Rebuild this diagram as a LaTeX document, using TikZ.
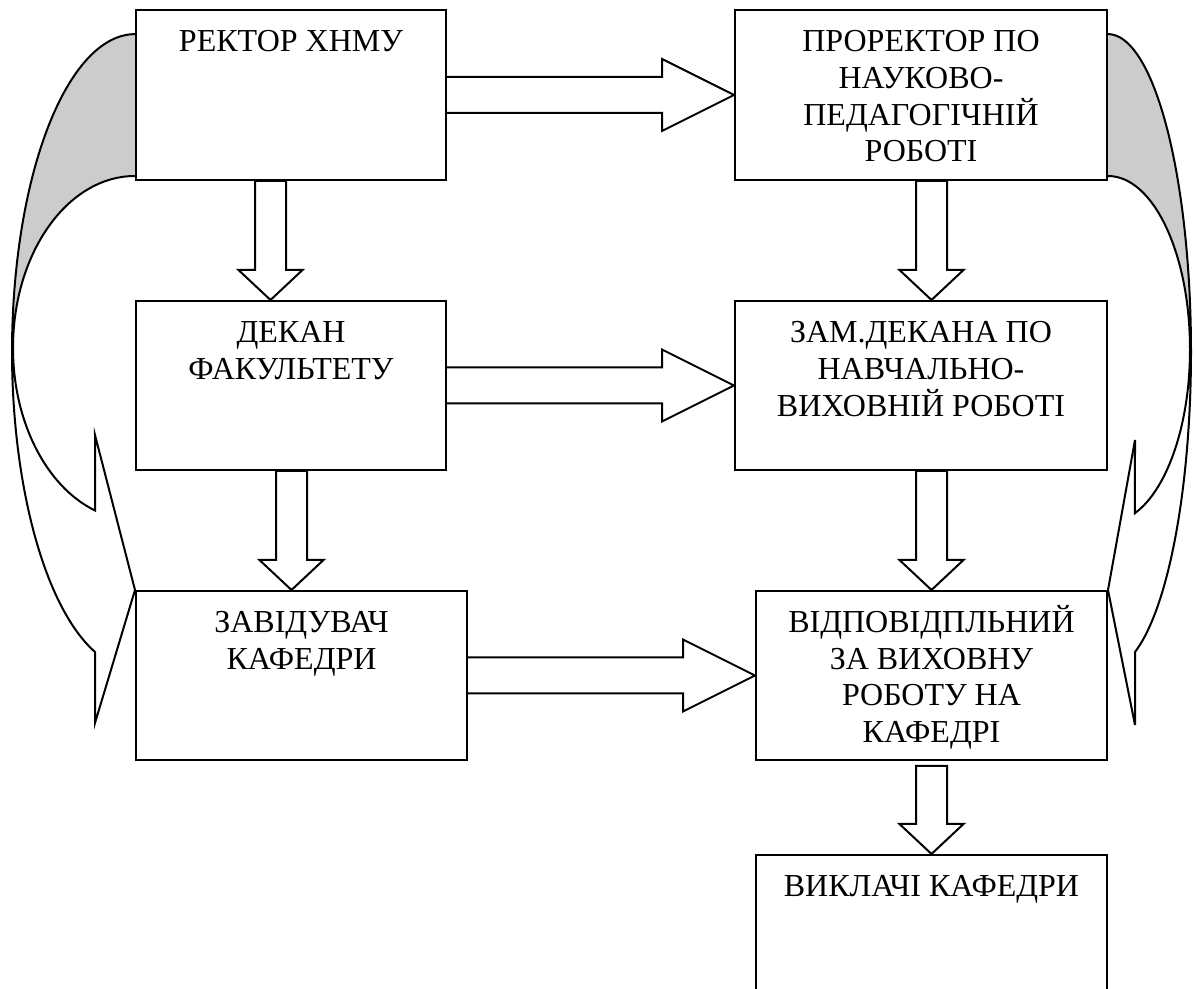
\documentclass[tikz,border=0pt]{standalone}
\usepackage{fontspec}
\setmainfont{Liberation Serif}
\usetikzlibrary{calc,positioning,backgrounds}

% hollow arrow pointing down: from, to, x shift, gap below the from box
\newcommand{\downblock}[4]{%
  \coordinate (db-top) at ($(#1.south)+(#3,#4)$);
  \coordinate (db-tip) at (db-top |- #2.north);
  \draw[blockarrow] ($(db-top)+(-15.5,0)$) -- ($(db-tip)+(-15.5,-30)$) -- ($(db-tip)+(-32,-30)$)
    -- (db-tip) -- ($(db-tip)+(32,-30)$) -- ($(db-tip)+(15.5,-30)$) -- ($(db-top)+(15.5,0)$) -- cycle;}
% hollow arrow pointing right: from, to
\newcommand{\rightblock}[2]{%
  \draw[blockarrow] ($(#1.east)+(0,-18)$) -- ($(#2.west)+(-72,-18)$) -- ($(#2.west)+(-72,-36)$)
    -- (#2.west) -- ($(#2.west)+(-72,36)$) -- ($(#2.west)+(-72,18)$) -- ($(#1.east)+(0,18)$);}

\tikzset{
  box/.style={draw, line width=1pt, fill=white, inner sep=0pt},
  txt/.style={align=center, inner sep=0pt, font=\fontsize{16}{18.35}\selectfont},
  blockarrow/.style={draw, line width=1pt, fill=white, line join=miter},
  loopline/.style={draw, line width=1pt, line join=miter},
  loopshade/.style={fill=black!20}
}

\begin{document}
\begin{tikzpicture}[x=0.5pt, y=-0.5pt]
      \useasboundingbox (0,0) rectangle (1196,989);
      % boxes
      \node[box, minimum width=155pt, minimum height=85pt] (rector) at (291,95) {};
      \node[box, minimum width=186pt, minimum height=85pt] (prorector) at (921,95) {};
      \node[box, minimum width=155pt, minimum height=84.5pt] (dekan) at (291,385.5) {};
      \node[box, minimum width=186pt, minimum height=84.5pt] (zam) at (921,385.5) {};
      \node[box, minimum width=165.5pt, minimum height=84.5pt] (zav) at (301.5,675.5) {};
      \node[box, minimum width=175.5pt, minimum height=84.5pt] (otv) at (931.5,675.5) {};
      \node[box, minimum width=175.5pt, minimum height=75pt] (vykl) at (931.5,930) {};
      % texts
      \node[txt, below=8.4pt of rector.north] (rector-t) {\strut РЕКТОР ХНМУ};
      \node[txt, below=8.4pt of prorector.north] (prorector-t) {\strut ПРОРЕКТОР ПО\\НАУКОВО-\\ПЕДАГОГІЧНІЙ\\РОБОТІ};
      \node[txt, below=8.4pt of dekan.north] (dekan-t) {\strut ДЕКАН\\ФАКУЛЬТЕТУ};
      \node[txt, below=8.4pt of zam.north] (zam-t) {\strut ЗАМ.ДЕКАНА ПО\\НАВЧАЛЬНО-\\ВИХОВНІЙ РОБОТІ};
      \node[txt, below=8.4pt of zav.north] (zav-t) {\strut ЗАВІДУВАЧ\\КАФЕДРИ};
      \node[txt, below=7.4pt of otv.north] (otv-t) {\strut ВІДПОВІДПЛЬНИЙ\\ЗА ВИХОВНУ\\РОБОТУ НА\\КАФЕДРІ};
      \node[txt, below=8.4pt of vykl.north] (vykl-t) {\strut ВИКЛАЧІ КАФЕДРИ};
      % straight arrows
      \rightblock{rector}{prorector}
      \rightblock{dekan}{zam}
      \rightblock{zav}{otv}
      \downblock{rector}{dekan}{-20.5}{0}
      \downblock{dekan}{zav}{0.5}{0}
      \downblock{prorector}{zam}{10.5}{0}
      \downblock{zam}{otv}{10.5}{0}
      \downblock{otv}{vykl}{0}{5}
      % curved arrows
      \begin{scope}[on background layer]
        \fill[loopshade] ($(rector.north west)+(0,25)$) arc[start angle=270, end angle=180, x radius=123, y radius=317.6]
          -- ($(rector.south west)+(-122,167)$) arc[start angle=180, end angle=270, x radius=122, y radius=172] -- cycle;
        \draw[loopline] ($(rector.south west)+(0,-5)$) arc[start angle=270, end angle=109.1, x radius=122, y radius=172]
          -- ($(zav.north west)+(-40,-155)$) -- (zav.north west) -- ($(zav.north west)+(-40,133)$)
          -- ($(zav.north west)+(-40,62)$) arc[start angle=109, end angle=270, x radius=123, y radius=317.6];
        \fill[loopshade] ($(prorector.north east)+(0,25)$) arc[start angle=-90, end angle=0, x radius=83, y radius=317.6]
          -- ($(prorector.south east)+(82,168.4)$) arc[start angle=0, end angle=-90, x radius=82, y radius=173.4] -- cycle;
        \draw[loopline] ($(prorector.south east)+(0,-5)$) arc[start angle=-90, end angle=70.8, x radius=82, y radius=173.4]
          -- ($(otv.north east)+(27,-150)$) -- (otv.north east) -- ($(otv.north east)+(27,135)$)
          -- ($(otv.north east)+(27,62)$) arc[start angle=71, end angle=-90, x radius=83, y radius=317.6];
      \end{scope}
\end{tikzpicture}
\end{document}
